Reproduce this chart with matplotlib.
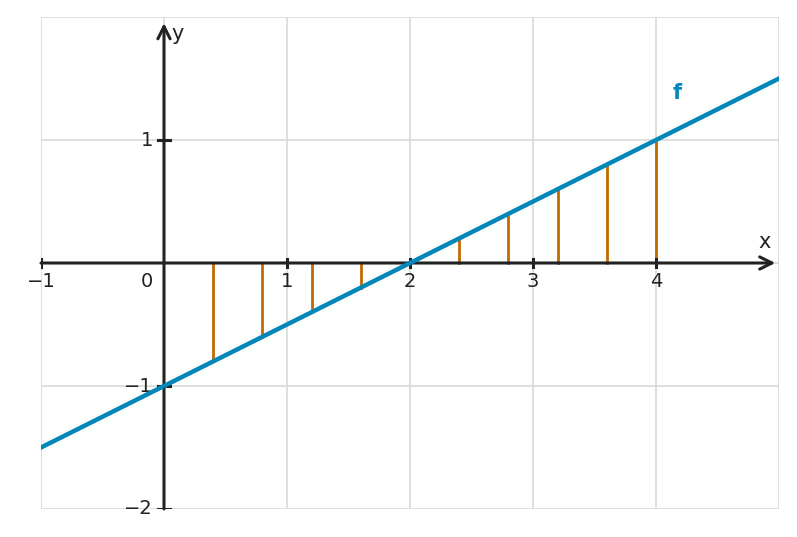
import matplotlib.pyplot as plt
import numpy as np

# line f(x) = x/2 - 1, drawn through its end points
line_x = [-1, 5]
line_y = [-1.5, 1.5]

# sample points for the vertical residual segments
seg_x = [0.4, 0.8, 1.2, 1.6, 2.0, 2.4, 2.8, 3.2, 3.6, 4.0]
seg_y = [-0.8, -0.6, -0.4, -0.2, 0.0, 0.2, 0.4, 0.6, 0.8, 1.0]

x_ticks = [-1, 1, 2, 3, 4]
y_ticks = [-2, -1, 1]

blue = "#0088bb"
orange = "#c06a00"
dark = "#222222"

fig = plt.figure(figsize=(7.97, 5.37), dpi=100)
ax = fig.add_axes([41 / 797, 1 - 509 / 537, 738 / 797, 492 / 537])
ax.set_xlim(-1, 5)
ax.set_ylim(-2, 2)

# grid
for gx in range(-1, 6):
    ax.axvline(gx, color="#d9d9d9", lw=1.2, zorder=0)
for gy in range(-2, 3):
    ax.axhline(gy, color="#d9d9d9", lw=1.2, zorder=0)

for s in ax.spines.values():
    s.set_visible(False)
ax.set_xticks([])
ax.set_yticks([])

# axes with arrows
ax.annotate("", xy=(4.97, 0), xytext=(-1, 0),
            arrowprops=dict(arrowstyle="->", color=dark, lw=2.2,
                            mutation_scale=22, shrinkA=0, shrinkB=0), zorder=3)
ax.annotate("", xy=(0, 1.95), xytext=(0, -2),
            arrowprops=dict(arrowstyle="->", color=dark, lw=2.2,
                            mutation_scale=22, shrinkA=0, shrinkB=0), zorder=3)

# tick marks and labels
for tx in x_ticks:
    ax.plot([tx, tx], [-0.035, 0.035], color=dark, lw=2.2, zorder=3)
    ax.text(tx, -0.075, str(tx).replace("-", "\u2212"), ha="center", va="top",
            fontsize=14, color=dark)
for ty in y_ticks:
    ax.plot([-0.045, 0.045], [ty, ty], color=dark, lw=2.2, zorder=3)
    ax.text(-0.09, ty, str(ty).replace("-", "\u2212"), ha="right", va="center",
            fontsize=14, color=dark)
ax.text(-0.09, -0.075, "0", ha="right", va="top", fontsize=14, color=dark)

ax.text(4.88, 0.09, "x", ha="center", va="bottom", fontsize=15, color=dark)
ax.text(0.06, 1.86, "y", ha="left", va="center", fontsize=15, color=dark)

# segments and line
for sx, sy in zip(seg_x, seg_y):
    ax.plot([sx, sx], [0, sy], color=orange, lw=2, zorder=2)
ax.plot(line_x, line_y, color=blue, lw=3.2, zorder=4)
ax.text(4.17, 1.38, "f", color=blue, fontsize=15, fontweight="bold",
        ha="center", va="center")

fig.savefig("out.png", dpi=100)
